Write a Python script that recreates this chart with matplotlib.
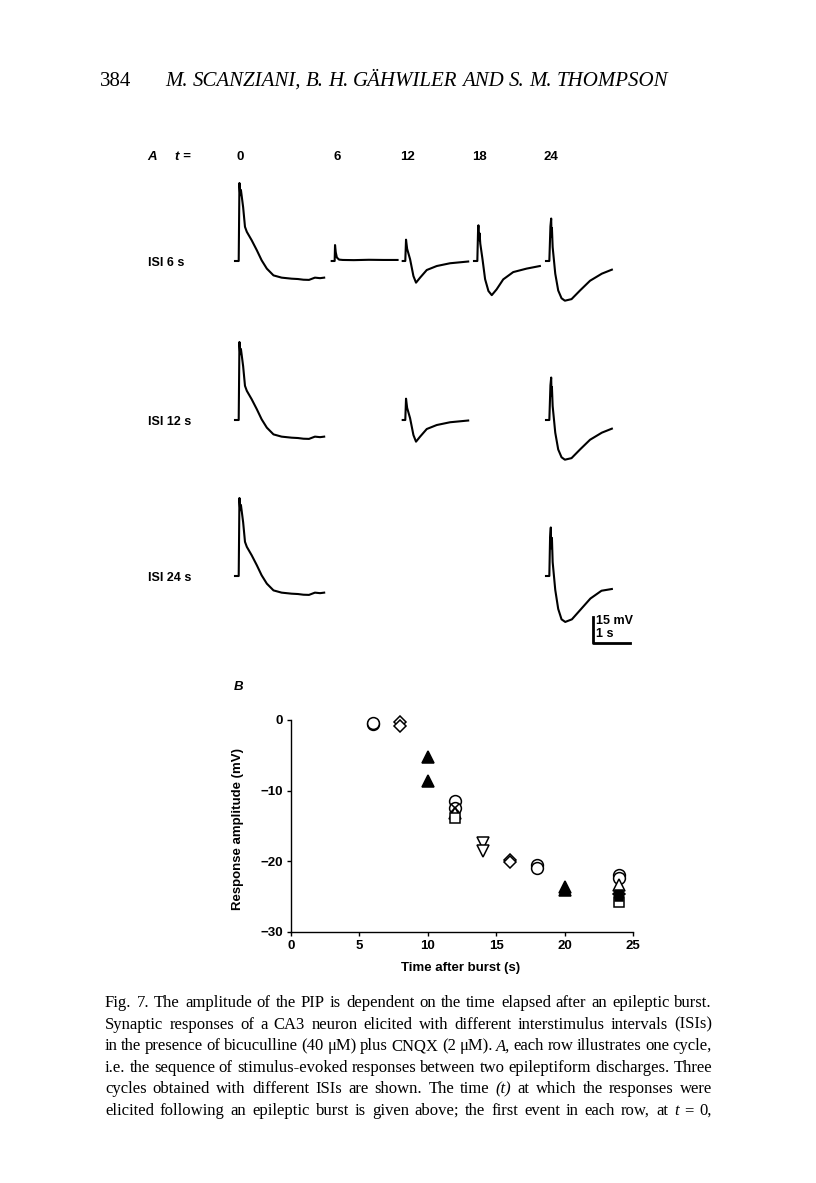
import matplotlib
matplotlib.use('Agg')
from matplotlib import pyplot as plt
import numpy as np


# page header and caption
PAGE_NO = '384'
AUTHORS = 'M. SCANZIANI, B. H. GÄHWILER AND S. M. THOMPSON'
CAPTION = [
    'Fig. 7. The amplitude of the PIP is dependent on the time elapsed after an epileptic burst.',
    'Synaptic responses of a CA3 neuron elicited with different interstimulus intervals (ISIs)',
    'in the presence of bicuculline (40 μM) plus CNQX (2 μM). _A, each row illustrates one cycle,',
    'i.e. the sequence of stimulus-evoked responses between two epileptiform discharges. Three',
    'cycles obtained with different ISIs are shown. The time _(t) at which the responses were',
    'elicited following an epileptic burst is given above; the first event in each row, at _t = 0,',
]

# panel A: column times and row labels
COL_TIMES = [0, 6, 12, 18, 24]
ROW_LABELS = ['ISI 6 s', 'ISI 12 s', 'ISI 24 s']

# trace shapes, time (s) after trace start and voltage (mV) from baseline
BURST_T = [0, 0.10, 0.12, 0.14, 0.16, 0.22, 0.27, 0.32, 0.45, 0.59, 0.72, 0.86, 1.04,
           1.26, 1.53, 1.70, 1.85, 2.00, 2.16, 2.30, 2.41]
BURST_V = [0, 0, 45, 38, 41, 31, 19.7, 16.8, 12.0, 6.2, 0.4, -4.4, -8.3,
           -9.6, -10.2, -10.4, -10.8, -10.9, -9.6, -9.9, -9.6]

SMALL_T = [0, 0.08, 0.09, 0.11, 0.14, 0.20, 0.30, 0.60, 1.00, 1.40, 1.78]
SMALL_V = [0, 0, 9.2, 5.0, 2.0, 0.8, 0.6, 0.5, 0.7, 0.6, 0.6]

T12_T = [0, 0.07, 0.09, 0.12, 0.20, 0.29, 0.36, 0.47, 0.65, 0.92, 1.28, 1.77]
T12_V = [0, 0, 12.3, 7.0, 1.0, -8.7, -12.5, -9.6, -5.2, -2.9, -1.3, -0.3]

T18_T = [0, 0.09, 0.11, 0.12, 0.14, 0.15, 0.17, 0.23, 0.30, 0.39, 0.48, 0.61, 0.79,
         1.06, 1.42, 1.78]
T18_V = [0, 0, 18, 20.6, 12, 16, 10, 1, -10.5, -17.3, -19.7, -16.4, -10.6,
         -6.4, -4.4, -2.9]

T24_T = [0, 0.09, 0.12, 0.14, 0.15, 0.16, 0.18, 0.25, 0.33, 0.42, 0.51, 0.69, 0.92,
         1.19, 1.51, 1.78]
T24_V = [0, 0, 20, 24.5, 14, 19, 8, -7.3, -17, -21.5, -22.9, -22, -17,
         -11.4, -7.3, -5.0]

T24B_T = [0, 0.09, 0.11, 0.13, 0.14, 0.16, 0.18, 0.25, 0.33, 0.42, 0.52, 0.70, 0.95,
          1.20, 1.50, 1.78]
T24B_V = [0, 0, 22, 28, 16, 22, 8, -8, -19, -25, -26.5, -25, -19,
          -13, -8.5, -7.5]

# which trace shape sits in which row / column
ROW_TRACES = [
    {0: (BURST_T, BURST_V), 6: (SMALL_T, SMALL_V), 12: (T12_T, T12_V),
     18: (T18_T, T18_V), 24: (T24_T, T24_V)},
    {0: (BURST_T, BURST_V), 12: (T12_T, T12_V), 24: (T24_T, T24_V)},
    {0: (BURST_T, BURST_V), 24: (T24B_T, T24B_V)},
]

# panel B: response amplitude (mV) vs time after burst (s), by symbol
CIRCLE_T = [6, 6, 12, 12, 18, 18, 24, 24]
CIRCLE_V = [-0.5, -0.4, -11.4, -12.4, -20.5, -20.9, -21.9, -22.4]
DIAMOND_T = [8, 8, 16, 16, 24]
DIAMOND_V = [-0.3, -0.8, -19.8, -20.1, -24.6]
TRI_FILLED_T = [10, 10, 20, 20]
TRI_FILLED_V = [-5.3, -8.6, -23.6, -24.0]
TRI_DOWN_T = [14, 14]
TRI_DOWN_V = [-17.4, -18.5]
TRI_UP_T = [12, 24]
TRI_UP_V = [-13.1, -23.4]
SQUARE_T = [12, 24]
SQUARE_V = [-13.8, -25.8]
SQ_FILLED_T = [24, 24]
SQ_FILLED_V = [-24.6, -25.1]
CROSS_T = [12]
CROSS_V = [-12.4]


W, H = 816, 1183
fig = plt.figure(figsize=(W / 100, H / 100), dpi=100)
fig.patch.set_facecolor('white')

# full page axes in pixel units
page = fig.add_axes([0, 0, 1, 1])
page.set_xlim(0, W)
page.set_ylim(H, 0)
page.axis('off')

SANS = 'Liberation Sans'
SERIF = 'Liberation Serif'
renderer = fig.canvas.get_renderer()


def justify(words, x0, x1, y, **kw):
    texts = []
    for w in words:
        style = 'normal'
        if w.startswith('_'):
            w = w[1:]
            style = 'italic'
        texts.append(page.text(0, y, w, va='baseline', fontstyle=style, **kw))
    widths = [t.get_window_extent(renderer).width for t in texts]
    gap = (x1 - x0 - sum(widths)) / max(len(texts) - 1, 1)
    x = x0
    for t, w in zip(texts, widths):
        t.set_x(x)
        x += w + gap


# header
page.text(100, 86, PAGE_NO, family=SERIF, fontsize=15, va='baseline')
justify(['_' + w for w in AUTHORS.split()], 165, 668, 86, family=SERIF, fontsize=15)

# caption
for i, line in enumerate(CAPTION):
    justify(line.split(), 105, 712, 1007 + i * 21.6, family=SERIF, fontsize=12)

# panel A labels
page.text(147, 157, 'A', family=SANS, fontsize=9.5, fontstyle='italic',
          fontweight='bold', va='center')
page.text(175, 157, 't =', family=SANS, fontsize=9.5, fontstyle='italic',
          fontweight='bold', va='center')
COL_X = [235, 331.7, 402.7, 474, 546]
for t, x in zip(COL_TIMES, COL_X):
    page.text(x + 5, 157, str(t), family=SANS, fontsize=9.5, fontweight='bold',
              ha='center', va='center')

ROW_Y = [261, 420, 576]
for label, y in zip(ROW_LABELS, ROW_Y):
    page.text(148, y + 2, label, family=SANS, fontsize=9, fontweight='bold',
              va='center')

PX_PER_S = 37.0
PX_PER_MV = 26.0 / 15.0
for traces, y0 in zip(ROW_TRACES, ROW_Y):
    for t, x0 in zip(COL_TIMES, COL_X):
        if t not in traces:
            continue
        tt, vv = traces[t]
        page.plot(x0 + np.array(tt) * PX_PER_S, y0 - np.array(vv) * PX_PER_MV,
                  color='black', lw=1.5, solid_joinstyle='round')

# scale bar: 15 mV, 1 s
sb_x, sb_y = 593, 643
page.plot([sb_x, sb_x, sb_x + 1 * PX_PER_S], [sb_y - 15 * PX_PER_MV, sb_y, sb_y],
          color='black', lw=2)
page.text(sb_x + 3, 621, '15 mV', family=SANS, fontsize=9, fontweight='bold', va='center')
page.text(sb_x + 3, 634, '1 s', family=SANS, fontsize=9, fontweight='bold', va='center')

# panel B
page.text(234, 687, 'B', family=SANS, fontsize=9.5, fontstyle='italic',
          fontweight='bold', va='center')
ax = fig.add_axes([291 / W, 1 - 932 / H, (633 - 291) / W, (932 - 720) / H])
ax.set_facecolor('none')
ax.set_xlim(0, 25)
ax.set_ylim(-30, 0)
ax.set_xticks([0, 5, 10, 15, 20, 25])
ax.set_yticks([0, -10, -20, -30])
for s in ['top', 'right']:
    ax.spines[s].set_visible(False)
for s in ['left', 'bottom']:
    ax.spines[s].set_linewidth(1.0)
ax.tick_params(direction='out', length=3, width=1, pad=3, labelsize=9.5)
for lab in ax.get_xticklabels() + ax.get_yticklabels():
    lab.set_family(SANS)
    lab.set_fontweight('bold')

ms = 8.5
mk = dict(linestyle='none', markeredgecolor='black', markeredgewidth=1.1, clip_on=False)
ax.plot(CIRCLE_T, CIRCLE_V, 'o', markersize=ms, markerfacecolor='white', **mk)
ax.plot(DIAMOND_T, DIAMOND_V, 'D', markersize=ms * 0.75, markerfacecolor='white', **mk)
ax.plot(TRI_FILLED_T, TRI_FILLED_V, '^', markersize=ms, markerfacecolor='black', **mk)
ax.plot(TRI_DOWN_T, TRI_DOWN_V, 'v', markersize=ms, markerfacecolor='white', **mk)
ax.plot(TRI_UP_T, TRI_UP_V, '^', markersize=ms, markerfacecolor='white', **mk)
ax.plot(SQUARE_T, SQUARE_V, 's', markersize=ms * 0.8, markerfacecolor='white', **mk)
ax.plot(SQ_FILLED_T, SQ_FILLED_V, 's', markersize=ms * 0.6, markerfacecolor='black', **mk)
ax.plot(CROSS_T, CROSS_V, 'x', markersize=ms * 0.7, **mk)

page.text(238, 829, 'Response amplitude (mV)', family=SANS, fontsize=9.5,
          fontweight='bold', rotation=90, ha='center', va='center')
page.text(461, 968, 'Time after burst (s)', family=SANS, fontsize=9.5,
          fontweight='bold', ha='center', va='center')

fig.savefig('out.png', dpi=100, facecolor='white')
